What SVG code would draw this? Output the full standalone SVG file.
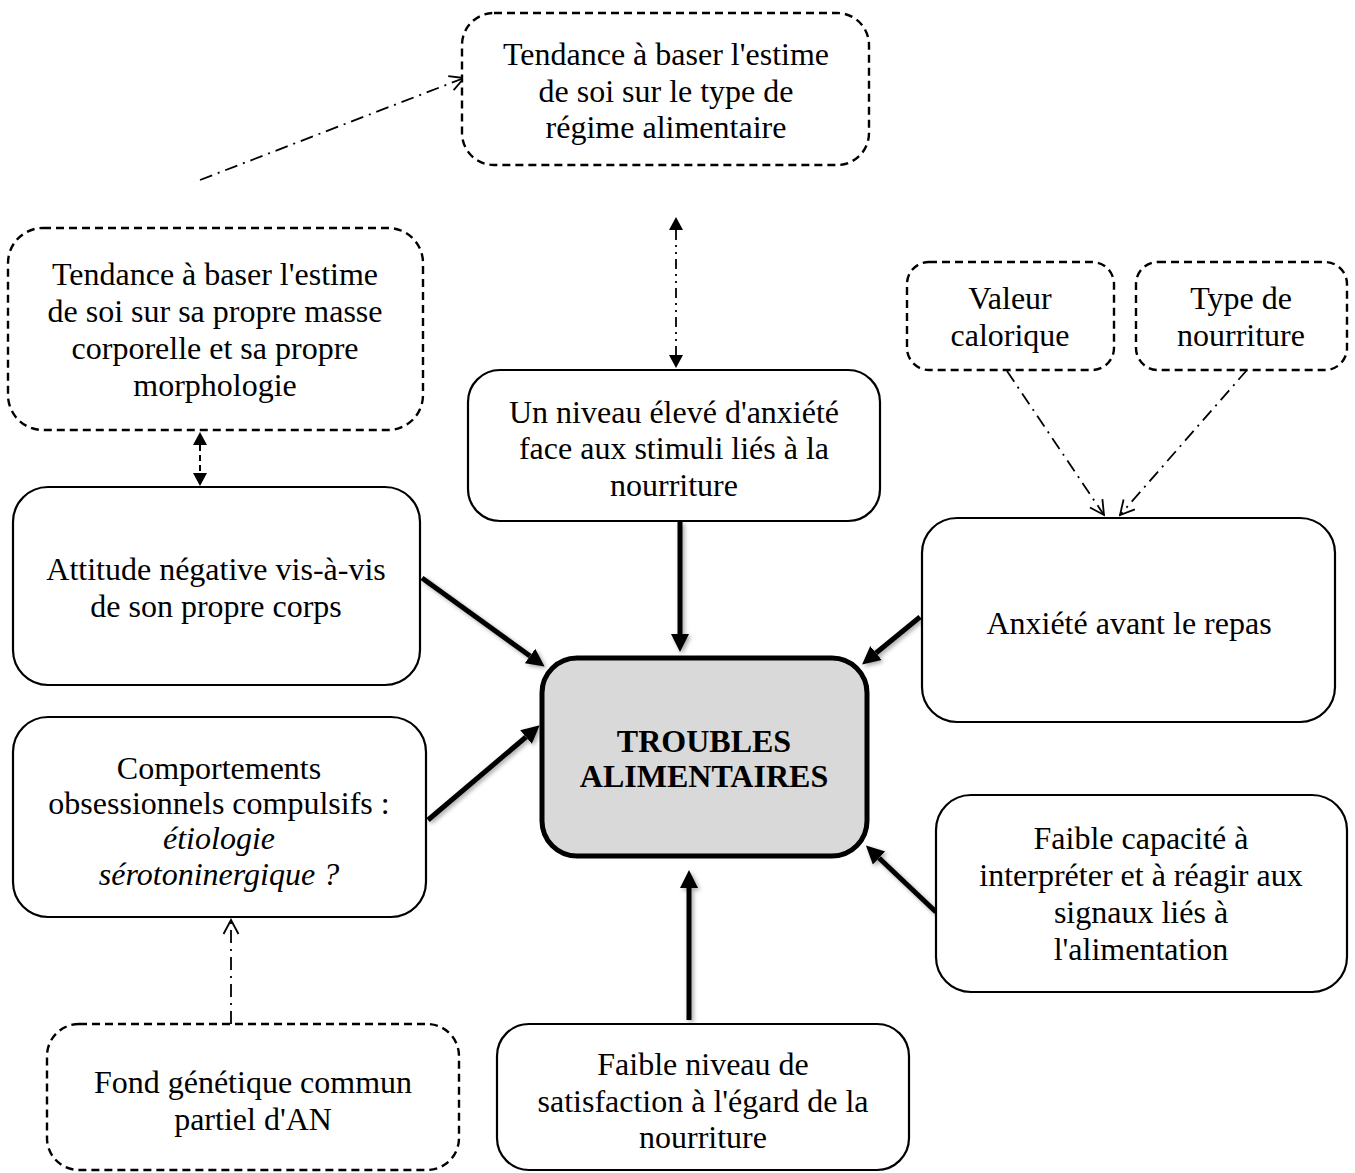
<svg xmlns="http://www.w3.org/2000/svg" width="1355" height="1173" viewBox="0 0 1355 1173">
  <style>
    .box { fill: #ffffff; stroke: #000000; stroke-width: 2.2; }
    .dbox { fill: #ffffff; stroke: #000000; stroke-width: 2.4; stroke-dasharray: 8 5; }
    .core { fill: #d9d9d9; stroke: #000000; stroke-width: 5; }
    text { font-family: "Liberation Serif", "Times New Roman", serif; font-size: 32px; fill: #000000; text-anchor: middle; }
    .bold { font-weight: bold; }
    .it { font-style: italic; }
    .thick { stroke: #000000; stroke-width: 5; fill: none; marker-end: url(#solid); filter: url(#shade); }
    .dashdot { stroke: #000000; stroke-width: 1.8; fill: none; stroke-dasharray: 13 6 2 6; }
    .dashdotdot { stroke: #000000; stroke-width: 1.8; fill: none; stroke-dasharray: 10 5 2 5 2 5; }
    .dash { stroke: #000000; stroke-width: 2; fill: none; stroke-dasharray: 6 4; }
  </style>
  <defs>
    <filter id="shade" filterUnits="userSpaceOnUse" x="0" y="0" width="1355" height="1173">
      <feDropShadow dx="2" dy="2" stdDeviation="2" flood-color="#000000" flood-opacity="0.35"/>
    </filter>
    <marker id="solid" markerUnits="userSpaceOnUse" viewBox="0 -10 20 20" refX="0" refY="0" markerWidth="20" markerHeight="20" orient="auto">
      <path d="M0,-9 L18,0 L0,9 z" fill="#000000"/>
    </marker>
    <marker id="small" markerUnits="userSpaceOnUse" viewBox="0 -8 14 16" refX="0" refY="0" markerWidth="14" markerHeight="16" orient="auto-start-reverse">
      <path d="M0,-7 L13,0 L0,7 z" fill="#000000"/>
    </marker>
    <marker id="open" markerUnits="userSpaceOnUse" viewBox="-16 -10 18 20" refX="0" refY="0" markerWidth="18" markerHeight="20" orient="auto">
      <path d="M-14,-7.5 L0,0 L-14,7.5" fill="none" stroke="#000000" stroke-width="1.8"/>
    </marker>
  </defs>

  <g id="connectors">
    <!-- dash-dot links with open heads -->
    <line class="dashdot" x1="200" y1="180" x2="464" y2="78" marker-end="url(#open)"/>
    <line class="dashdot" x1="1007" y1="371" x2="1104" y2="515" marker-end="url(#open)"/>
    <line class="dashdot" x1="1247" y1="370" x2="1120" y2="515" marker-end="url(#open)"/>
    <line class="dashdot" x1="231" y1="1024" x2="231" y2="920" marker-end="url(#open)"/>
    <!-- two-way links -->
    <line class="dashdotdot" x1="676" y1="230" x2="676" y2="355" marker-start="url(#small)" marker-end="url(#small)"/>
    <line class="dash" x1="200" y1="445" x2="200" y2="473" marker-start="url(#small)" marker-end="url(#small)"/>
    <!-- heavy arrows into the central node -->
    <line class="thick" x1="422" y1="578" x2="530" y2="656"/>
    <line class="thick" x1="680" y1="522" x2="680" y2="634"/>
    <line class="thick" x1="920" y1="617" x2="876" y2="653"/>
    <line class="thick" x1="428" y1="820" x2="526" y2="737"/>
    <line class="thick" x1="936" y1="912" x2="879" y2="858"/>
    <line class="thick" x1="689" y1="1020" x2="689" y2="888"/>
  </g>

  <g id="estime-regime">
    <rect class="dbox" x="462" y="13" width="407" height="152" rx="32"/>
    <text x="666" y="65">Tendance à baser l'estime</text>
    <text x="666" y="102">de soi sur le type de</text>
    <text x="666" y="138">régime alimentaire</text>
  </g>

  <g id="estime-masse">
    <rect class="dbox" x="8" y="228" width="415" height="202" rx="35"/>
    <text x="215" y="285">Tendance à baser l'estime</text>
    <text x="215" y="322">de soi sur sa propre masse</text>
    <text x="215" y="359">corporelle et sa propre</text>
    <text x="215" y="396">morphologie</text>
  </g>

  <g id="valeur-calorique">
    <rect class="dbox" x="907" y="262" width="207" height="108" rx="22"/>
    <text x="1010" y="309">Valeur</text>
    <text x="1010" y="346">calorique</text>
  </g>

  <g id="type-nourriture">
    <rect class="dbox" x="1136" y="262" width="211" height="108" rx="22"/>
    <text x="1241" y="309">Type de</text>
    <text x="1241" y="346">nourriture</text>
  </g>

  <g id="anxiete-stimuli">
    <rect class="box" x="468" y="370" width="412" height="151" rx="32"/>
    <text x="674" y="423">Un niveau élevé d'anxiété</text>
    <text x="674" y="459">face aux stimuli liés à la</text>
    <text x="674" y="496">nourriture</text>
  </g>

  <g id="attitude-negative">
    <rect class="box" x="13" y="487" width="407" height="198" rx="35"/>
    <text x="216" y="580">Attitude négative vis-à-vis</text>
    <text x="216" y="617">de son propre corps</text>
  </g>

  <g id="anxiete-repas">
    <rect class="box" x="922" y="518" width="413" height="204" rx="35"/>
    <text x="1129" y="634">Anxiété avant le repas</text>
  </g>

  <g id="troubles">
    <rect class="core" x="542" y="658" width="325" height="198" rx="35"/>
    <text class="bold" x="704" y="752">TROUBLES</text>
    <text class="bold" x="704" y="787">ALIMENTAIRES</text>
  </g>

  <g id="comportements">
    <rect class="box" x="13" y="717" width="413" height="200" rx="35"/>
    <text x="219" y="779">Comportements</text>
    <text x="219" y="814">obsessionnels compulsifs :</text>
    <text class="it" x="219" y="849">étiologie</text>
    <text class="it" x="219" y="885">sérotoninergique ?</text>
  </g>

  <g id="signaux">
    <rect class="box" x="936" y="795" width="411" height="197" rx="35"/>
    <text x="1141" y="849">Faible capacité à</text>
    <text x="1141" y="886">interpréter et à réagir aux</text>
    <text x="1141" y="923">signaux liés à</text>
    <text x="1141" y="960">l'alimentation</text>
  </g>

  <g id="fond-genetique">
    <rect class="dbox" x="47" y="1024" width="412" height="146" rx="32"/>
    <text x="253" y="1093">Fond génétique commun</text>
    <text x="253" y="1130">partiel d'AN</text>
  </g>

  <g id="satisfaction">
    <rect class="box" x="497" y="1024" width="412" height="146" rx="32"/>
    <text x="703" y="1075">Faible niveau de</text>
    <text x="703" y="1112">satisfaction à l'égard de la</text>
    <text x="703" y="1148">nourriture</text>
  </g>
</svg>
